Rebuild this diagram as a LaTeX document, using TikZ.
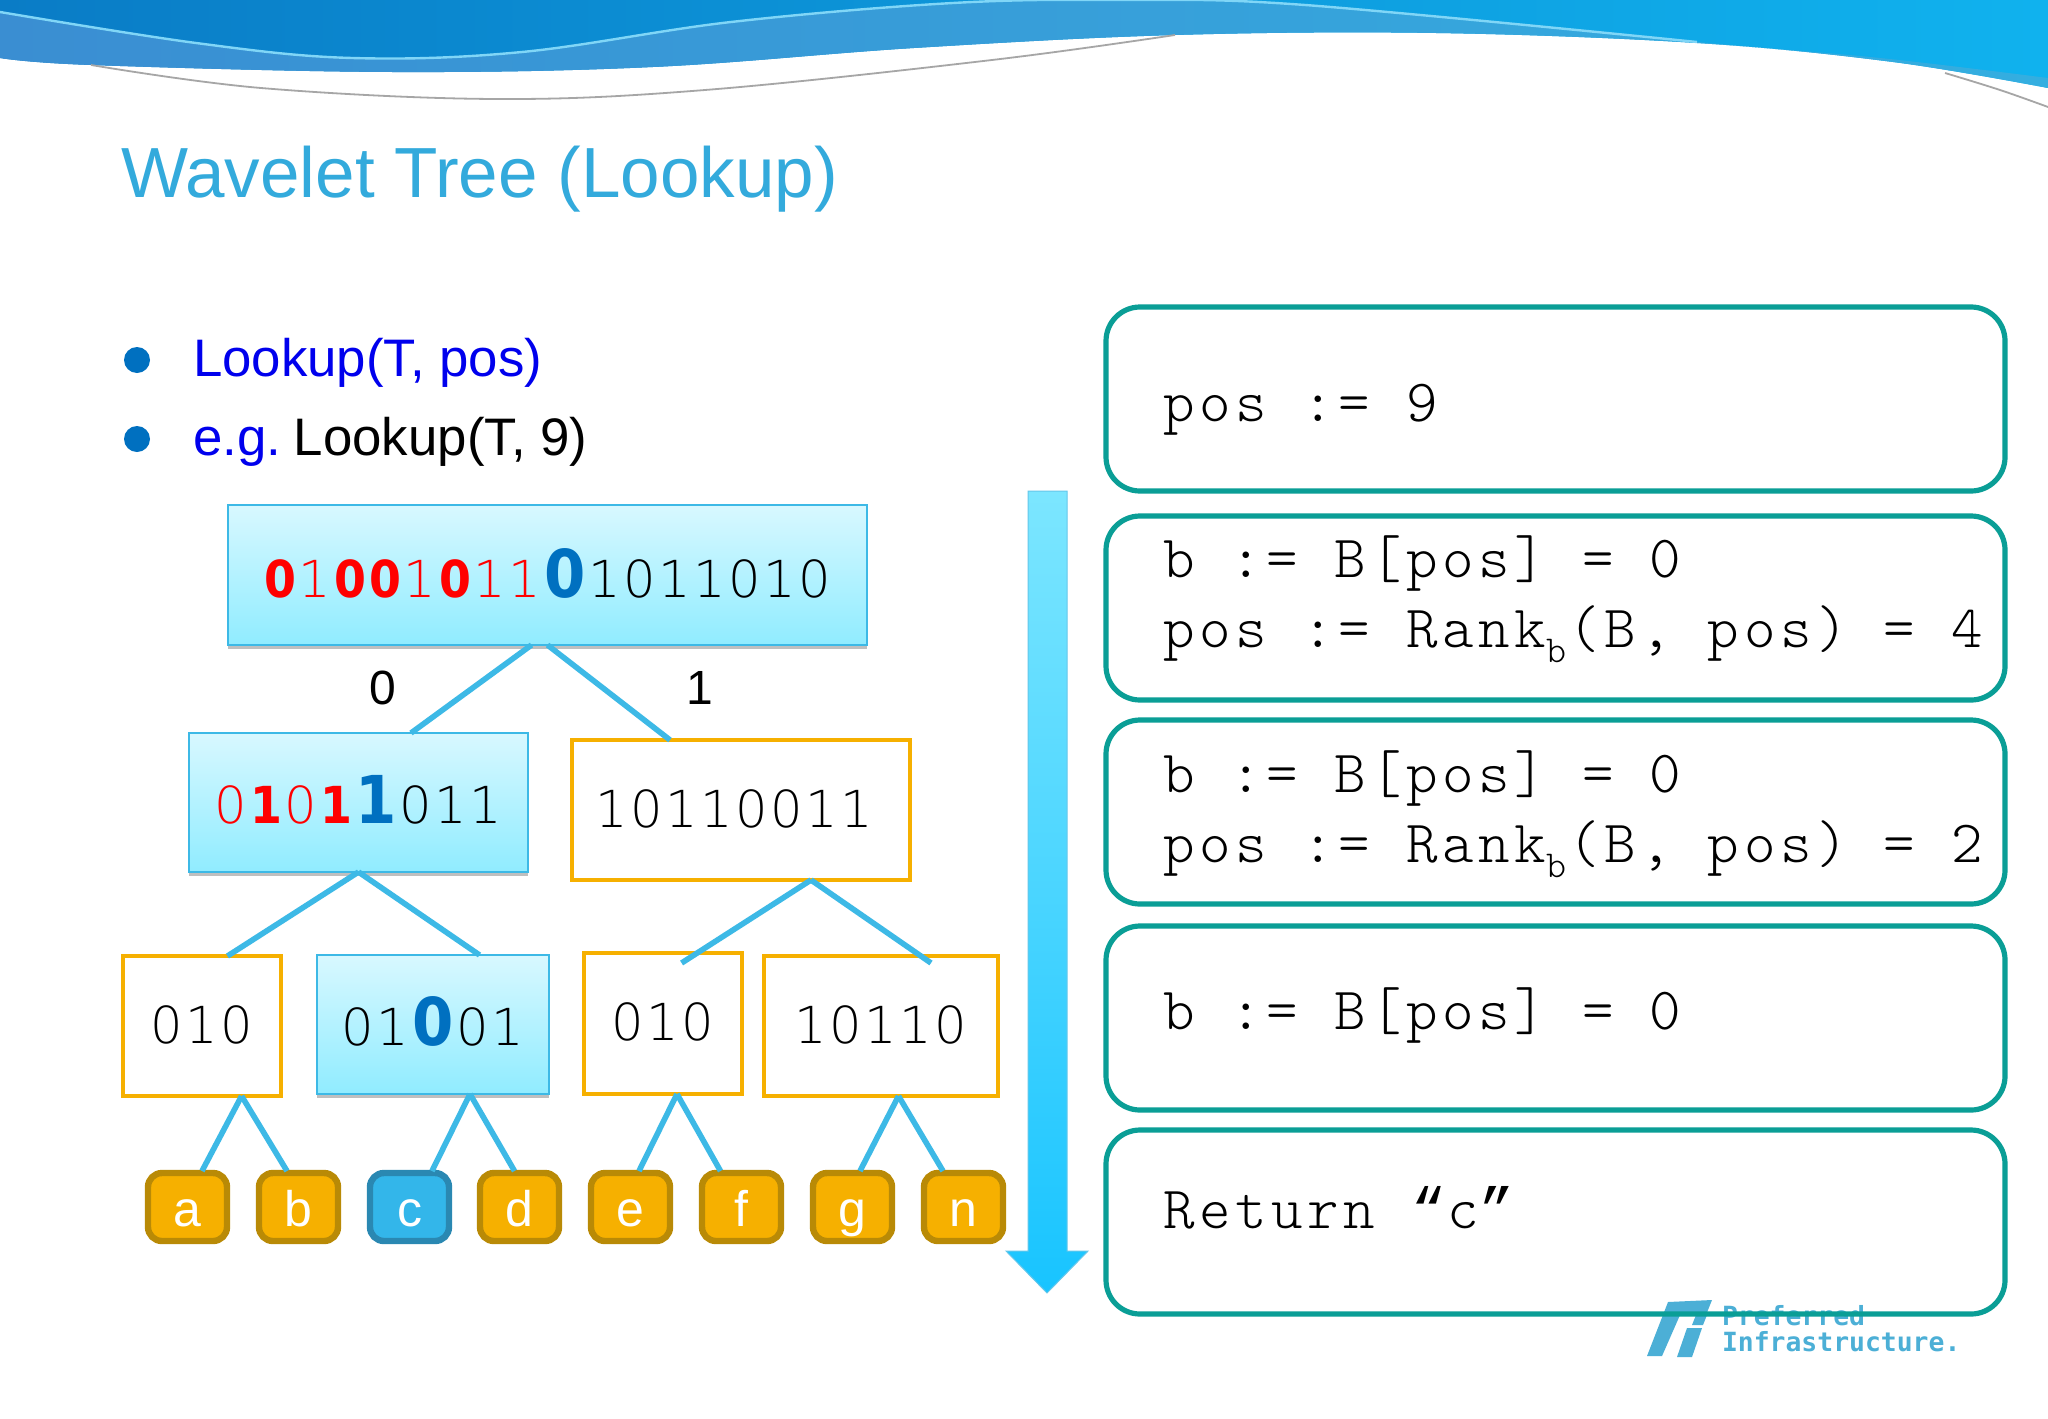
\documentclass[tikz,border=0pt]{standalone}
\usepackage{fontspec}
\usetikzlibrary{shadows,calc}
\setmainfont{Liberation Sans}
\newfontfamily\dgthin{DejaVu Sans ExtraLight}
\newfontfamily\dgbold{DejaVu Sans Condensed Bold}
\newfontfamily\code[LetterSpace=7.7]{Latin Modern Mono Light}
\newfontfamily\quotefont{Liberation Mono}
\newfontfamily\logofont{DejaVu Sans Mono Bold}
\definecolor{dkL}{HTML}{0A7CC6}
\definecolor{dkR}{HTML}{10B2EE}
\definecolor{midL}{HTML}{3A8ED2}
\definecolor{midR}{HTML}{34AEE0}
\definecolor{titleblue}{HTML}{33AADC}
\definecolor{edgeblue}{HTML}{3DB9E6}
\definecolor{orangeb}{HTML}{F6B000}
\definecolor{leafedge}{HTML}{B98A06}
\definecolor{leafblue}{HTML}{33B6EA}
\definecolor{leafblueedge}{HTML}{2A88B2}
\definecolor{teal}{HTML}{0A9E96}
\definecolor{bigblue}{HTML}{0070C0}
\definecolor{logoblue}{HTML}{4CAFD6}
\definecolor{boxtop}{HTML}{D8F8FF}
\definecolor{boxbot}{HTML}{90ECFF}
\definecolor{arrtop}{HTML}{7CE6FF}
\definecolor{arrbot}{HTML}{18C4FF}
% monospaced digits (35 px advance)
\newcommand\dN[1]{\makebox[17.5pt][c]{\dgthin\fontsize{25.5}{26}\selectfont #1}}
\newcommand\dR[1]{\makebox[17.5pt][c]{\color{red}\dgthin\fontsize{25.5}{26}\selectfont #1}}
\newcommand\dB[1]{\makebox[17.5pt][c]{\color{red}\dgbold\fontsize{25.5}{26}\selectfont #1}}
\newcommand\dH[1]{\makebox[22.5pt][c]{\color{bigblue}\dgbold\fontsize{33}{34}\selectfont #1}}
\newcommand\digs[1]{\dgloop#1\relax}
\def\dgloop#1{\ifx#1\relax\else\dN{#1}\expandafter\dgloop\fi}
\newcommand\cl{\hspace*{28.5pt}}
\newcommand\cs{\hspace{18pt}}
\newcommand\subb{\makebox[11pt][l]{\raisebox{-7.5pt}{\fontsize{19}{19}\selectfont b}}}
\newcommand\qm[1]{\makebox[18pt][c]{\quotefont\fontsize{29}{29}\selectfont #1}}
% box from corners: style, name, x1, y1, x2, y2, extra, text
\newcommand\Bx[8]{\node[#1,minimum width={(#5-#3)*0.5pt},minimum height={(#6-#4)*0.5pt},#7] (#2) at ({(#3+#5)/2},{(#4+#6)/2}) {#8};}
\tikzset{
 x=0.5pt,y=-0.5pt,
 every node/.style={inner sep=0pt,outer sep=0pt},
 treebox/.style={rectangle,draw=edgeblue,line width=1.3pt,top color=boxtop,bottom color=boxbot,
   drop shadow={shadow xshift=0pt,shadow yshift=-2pt,opacity=.25,fill=black}},
 plainbox/.style={rectangle,draw=orangeb,line width=2.4pt,fill=white},
 leaf/.style={rectangle,rounded corners=7pt,draw=leafedge,line width=3.2pt,fill=orangeb,text=white,font=\fontsize{25}{26}\selectfont,text height=19pt,text depth=0pt},
 leafc/.style={leaf,draw=leafblueedge,fill=leafblue},
 edgeline/.style={draw=edgeblue,line width=2.8pt},
 codebox/.style={rectangle,rounded corners=17pt,draw=teal,line width=2.6pt,text width=449.5pt,align=left,
   font={\code\fontsize{30}{35}\selectfont}},
 bullettext/.style={anchor=base west,font=\fontsize{26.4}{27}\selectfont},
 bulletdot/.style={circle,fill=bigblue,minimum size=13pt},
 edgelabel/.style={font=\fontsize{24}{25}\selectfont}
}
\begin{document}
\begin{tikzpicture}
\useasboundingbox (0,0) rectangle (2048,1418);
\fill[white] (0,0) rectangle (2048,1418);
% header wave
\shade[left color=dkL,right color=dkR] (0,0) -- plot[smooth,tension=.6] coordinates {(0,58) (91,65) (392,72) (653,67) (914,48) (1175,35) (1436,33) (1697,43) (1893,62) (2048,88)} -- (2048,0) -- cycle;
\shade[left color=midL,right color=midR] plot[smooth,tension=.6] coordinates {(0,58) (91,65) (392,72) (653,67) (914,48) (1175,35) (1436,33) (1697,43) (1893,62) (2048,88)} -- plot[smooth,tension=.6] coordinates {(2048,78) (1880,58) (1697,42) (1305,5) (1123,0) (953,3) (731,22) (522,52) (352,58) (196,43) (0,12)} -- cycle;
\draw[cyan!50!white,line width=1.2pt] plot[smooth,tension=.6] coordinates {(0,12) (196,43) (352,58) (522,52) (731,22) (953,3) (1123,0) (1305,5) (1697,42)};
\draw[black!35,line width=.9pt] plot[smooth,tension=.6] coordinates {(91,65) (261,88) (496,99) (705,90) (992,60) (1175,35)};
\draw[black!35,line width=.9pt] plot[smooth,tension=.6] coordinates {(1945,73) (2000,90) (2048,107)};
% title
\node[anchor=base west,text=titleblue,font=\fontsize{35.5}{36}\selectfont] (title) at (121,197) {Wavelet Tree (Lookup)};
% bullets
\node[bulletdot] (dot1) at (137,360) {};
\node[bulletdot] (dot2) at (137,439) {};
\node[bullettext,text=blue!93!black] (b1) at (193,376) {Lookup(T, pos)};
\node[bullettext] (b2) at (193,455) {\textcolor{blue!93!black}{e.g.}\hspace{6.4pt}Lookup(T, 9)};
% logo
\fill[logoblue] (1647,1356) -- (1662,1356) -- (1680,1315) -- (1706,1315) -- (1712,1300) -- (1668,1302) -- cycle;
\fill[logoblue] (1677,1357) -- (1692,1357) -- (1702,1328) -- (1687,1328) -- cycle;
\fill[logoblue] (1692,1325) -- (1703,1325) -- (1707,1315) -- (1696,1315) -- cycle;
\node[anchor=base west,text=logoblue,font={\logofont\fontsize{13.2}{14}\selectfont}] (logo1) at (1722,1325) {Preferred};
\node[anchor=base west,text=logoblue,font={\logofont\fontsize{13.2}{14}\selectfont}] (logo2) at (1722,1351) {Infrastructure.};
% tree boxes
\Bx{treebox}{root}{228}{505}{867}{645}{text height=22pt,text depth=0pt}{\dB0\dR1\dB0\dB0\dR1\dB0\dR1\dR1\dH0\digs{1011010}}
\Bx{treebox}{la}{189}{733}{528}{872}{text height=20.5pt,text depth=0pt}{\dR0\dB1\dR0\dB1\dH1\digs{011}}
\Bx{plainbox}{lb}{572}{740}{910}{880}{text height=17pt,text depth=0pt}{\digs{10110011}\kern7pt}
\Bx{plainbox}{ma}{123}{956}{281}{1096}{text height=17pt,text depth=0pt}{\digs{010}}
\Bx{treebox}{mb}{317}{955}{549}{1094}{text height=20.5pt,text depth=0pt}{\digs{01}\dH0\digs{01}}
\Bx{plainbox}{mc}{584}{953}{742}{1094}{text height=16.5pt,text depth=0pt}{\digs{010}}
\Bx{plainbox}{md}{764}{956}{998}{1096}{text height=17pt,text depth=0pt}{\digs{10110}}
% leaves
\Bx{leaf}{a}{148}{1173}{227}{1241}{}{a}
\Bx{leaf}{b}{259}{1173}{338}{1241}{}{b}
\Bx{leafc}{c}{370}{1173}{449}{1241}{}{c}
\Bx{leaf}{d}{480}{1173}{559}{1241}{}{d}
\Bx{leaf}{e}{591}{1173}{670}{1241}{}{e}
\Bx{leaf}{f}{702}{1173}{781}{1241}{}{f}
\Bx{leaf}{g}{813}{1173}{892}{1241}{}{g}
\Bx{leaf}{n}{924}{1173}{1003}{1241}{}{n}
% connectors
\draw[edgeline] ([xshift=-8pt]root.south) -- ([xshift=26.25pt]la.north);
\draw[edgeline] (root.south) -- ([xshift=-35.5pt]lb.north);
\draw[edgeline] (la.south) -- ([xshift=12.75pt]ma.north);
\draw[edgeline] (la.south) -- ([xshift=23.25pt]mb.north);
\draw[edgeline] ([xshift=35pt]lb.south) -- ([yshift=-5pt,xshift=9.3pt]mc.north);
\draw[edgeline] ([xshift=35pt]lb.south) -- ([yshift=-3.5pt,xshift=25pt]md.north);
\draw[edgeline] ([xshift=19.8pt]ma.south) -- ([xshift=7.25pt,yshift=1pt]a.north);
\draw[edgeline] ([xshift=19.8pt]ma.south) -- ([xshift=-5.75pt,yshift=1pt]b.north);
\draw[edgeline] ([xshift=18.5pt]mb.south) -- ([xshift=11.25pt,yshift=1pt]c.north);
\draw[edgeline] ([xshift=18.5pt]mb.south) -- ([xshift=-2.5pt,yshift=1pt]d.north);
\draw[edgeline] ([xshift=7pt]mc.south) -- ([xshift=4.25pt,yshift=1pt]e.north);
\draw[edgeline] ([xshift=7pt]mc.south) -- ([xshift=-10.5pt,yshift=1pt]f.north);
\draw[edgeline] ([xshift=8.75pt]md.south) -- ([xshift=3.75pt,yshift=1pt]g.north);
\draw[edgeline] ([xshift=8.75pt]md.south) -- ([xshift=-10.25pt,yshift=1pt]n.north);
% edge labels
\node[edgelabel] (lab0) at (383,688) {0};
\node[edgelabel] (lab1) at (700,688) {1};
% big arrow
\shade[top color=arrtop,bottom color=arrbot,draw=edgeblue!80!white,line width=.5pt]
  (1028,491) -- (1067,491) -- (1067,1251) -- (1088,1251) -- (1047,1293) -- (1006,1251) -- (1028,1251) -- cycle;
% code boxes
\Bx{codebox}{c1}{1106}{307}{2005}{491}{text height=22.5pt,text depth=0pt}{\cl pos\cs:=\cs 9}
\Bx{codebox}{c2}{1106}{516}{2005}{700}{text height=0pt,text depth=30.5pt}{\cl b\cs:=\cs B[pos]\cs=\cs 0\\\cl pos\cs:=\cs Rank\subb(B,\cs pos)\cs=\cs 4}
\Bx{codebox}{c3}{1106}{720}{2005}{904}{text height=0pt,text depth=19.5pt}{\cl b\cs:=\cs B[pos]\cs=\cs 0\\\cl pos\cs:=\cs Rank\subb(B,\cs pos)\cs=\cs 2}
\Bx{codebox}{c4}{1106}{926}{2005}{1110}{text height=11.5pt,text depth=0pt}{\cl b\cs:=\cs B[pos]\cs=\cs 0}
\Bx{codebox}{c5}{1106}{1130}{2005}{1314}{text height=6.5pt,text depth=0pt}{\cl Return\cs\qm{“}c\qm{”}}
\end{tikzpicture}
\end{document}
